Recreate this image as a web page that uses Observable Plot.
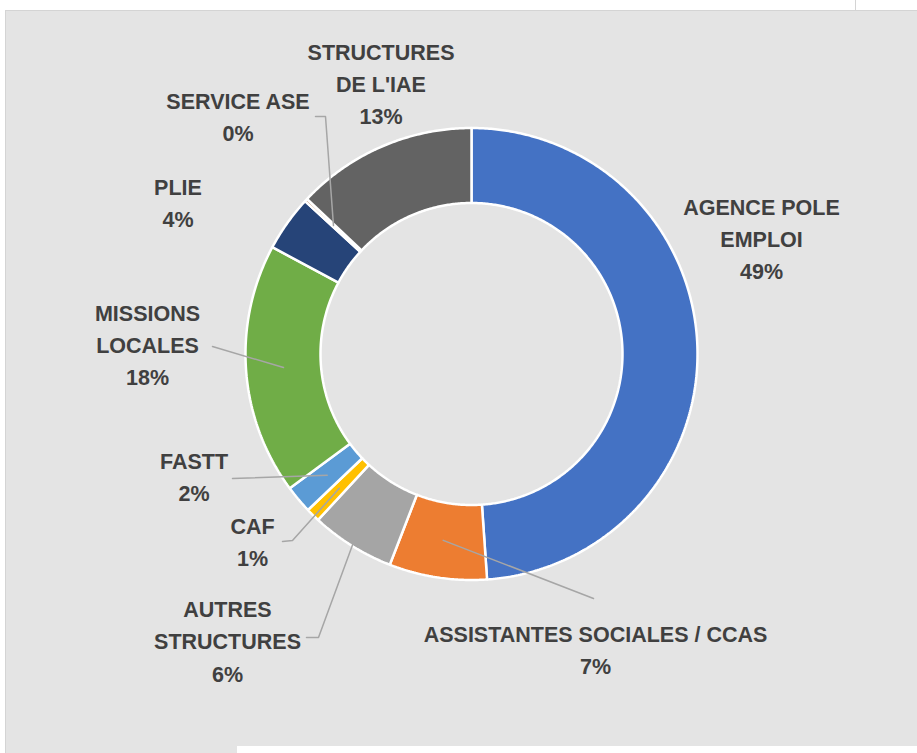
<!DOCTYPE html>
<html>
<head>
<meta charset="utf-8">
<script src="https://cdn.jsdelivr.net/npm/d3@7"></script>
<script src="https://cdn.jsdelivr.net/npm/@observablehq/plot@0.6"></script>
<style>
  html, body { margin: 0; padding: 0; background: #ffffff; width: 917px; height: 753px; overflow: hidden; }
  #panel { position: absolute; left: 5px; top: 10px; width: 912px; height: 736px; background: #e4e4e4; border-top: 1px solid #d4d4d4; border-left: 1px solid #d4d4d4; box-sizing: border-box; }
  #panel2 { position: absolute; left: 5px; top: 740px; width: 232px; height: 13px; background: #e4e4e4; border-left: 1px solid #d4d4d4; box-sizing: border-box; }
  #tick { position: absolute; left: 855px; top: 0; width: 1px; height: 10px; background: #d4d4d4; }
  #chart { position: absolute; left: 0; top: 0; }
</style>
</head>
<body>
<div id="panel"></div>
<div id="panel2"></div>
<div id="tick"></div>
<div id="chart"></div>
<script>
// ---- data ----
const categories = ["AGENCE POLE EMPLOI", "ASSISTANTES SOCIALES / CCAS", "AUTRES STRUCTURES", "CAF", "FASTT", "MISSIONS LOCALES", "PLIE", "SERVICE ASE", "STRUCTURES DE L'IAE"];
const shares = [49, 7, 6, 1, 2, 18, 4, 0.2, 13];
const labelLines = [["AGENCE POLE", "EMPLOI"], ["ASSISTANTES SOCIALES / CCAS"], ["AUTRES", "STRUCTURES"], ["CAF"], ["FASTT"], ["MISSIONS", "LOCALES"], ["PLIE"], ["SERVICE ASE"], ["STRUCTURES", "DE L'IAE"]];
const colors = ["#4472C4", "#ED7D31", "#A5A5A5", "#FFC000", "#5B9BD5", "#70AD47", "#264478", "#9E480E", "#636363"];

// ---- layout ----
const CX = 471, CY = 353.5, R_OUT = 226, R_IN = 151;
const labelPos = [[761, 240], [595, 651.5], [227, 642.5], [252, 543], [193.5, 478], [147, 346], [177.5, 204.5], [237.5, 118], [380.5, 85]];
const leaderBends = [null, [[593, 598]], [[318, 637], [306, 637]], [[292, 540], [282, 541]], [[232, 478]], [[212, 346]], null, [[325, 116], [315, 116]], null];
const leaderStartR = [null, 188.5, 224, 188.5, 188.5, 188.5, null, 188.5, null];

const total = d3.sum(shares);
const pt = (r, a) => ({x: CX + r * Math.sin(a), y: CY - r * Math.cos(a)});

const slicePts = [];
const leaderPts = [];
const labels = [];
let cum = 0;
categories.forEach((cat, i) => {
  const a0 = cum / total * 2 * Math.PI;
  cum += shares[i];
  const a1 = cum / total * 2 * Math.PI;
  const n = Math.max(2, Math.ceil((a1 - a0) / (Math.PI / 360)));
  const ring = [];
  for (let k = 0; k <= n; k++) ring.push(pt(R_OUT, a0 + (a1 - a0) * k / n));
  for (let k = n; k >= 0; k--) ring.push(pt(R_IN, a0 + (a1 - a0) * k / n));
  ring.push(ring[0]);
  ring.forEach(p => slicePts.push({cat, color: colors[i], x: p.x, y: p.y}));

  const am = (a0 + a1) / 2;
  if (leaderBends[i]) {
    const s = pt(leaderStartR[i], am);
    leaderPts.push({cat, x: s.x, y: s.y});
    leaderBends[i].forEach(([x, y]) => leaderPts.push({cat, x, y}));
  }
  const pct = Math.round(shares[i] / total * 100) + "%";
  labels.push({cat, x: labelPos[i][0], y: labelPos[i][1], text: [...labelLines[i], pct].join("\n")});
});

const chart = Plot.plot({
  width: 917,
  height: 753,
  margin: 0,
  style: {background: "transparent", overflow: "visible"},
  x: {domain: [0, 917], range: [0, 917], axis: null},
  y: {domain: [0, 753], range: [0, 753], axis: null},
  color: {type: "identity"},
  marks: [
    Plot.line(slicePts, {x: "x", y: "y", z: "cat", fill: "color", stroke: "#ffffff", strokeWidth: 2.5, strokeLinejoin: "miter", curve: "linear"}),
    Plot.line(leaderPts, {x: "x", y: "y", z: "cat", stroke: "#a6a6a6", strokeWidth: 1.5, curve: "linear"}),
    Plot.text(labels, {x: "x", y: "y", dy: -4, text: "text", textAnchor: "middle", lineAnchor: "middle", lineHeight: 1.5,
      fontSize: 21.5, fontWeight: "bold", fontFamily: "'Liberation Sans', Arial, sans-serif", fill: "#404040"})
  ]
});
document.getElementById("chart").appendChild(chart);
</script>
</body>
</html>
